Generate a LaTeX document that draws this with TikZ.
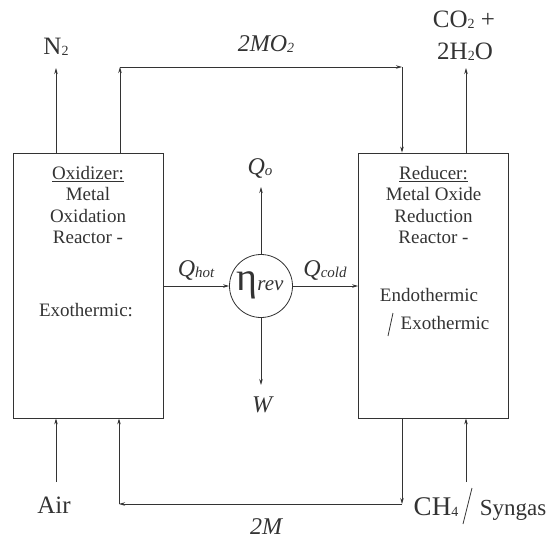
\documentclass[tikz,border=0pt]{standalone}
\usepackage{fontspec}
\setmainfont{Liberation Serif}
\usetikzlibrary{arrows.meta,positioning,calc}
\definecolor{ink}{HTML}{333333}
\newcommand{\lowsub}[1]{\raisebox{-1pt}{\fontsize{14}{14}\selectfont #1}}
\newcommand{\itsub}[1]{\raisebox{-1pt}{\fontsize{15}{15}\selectfont\itshape #1}}

\begin{document}
\begin{tikzpicture}[
  x=1pt, y=-1pt,
  every node/.style={text=ink},
  reactor/.style={draw=ink, line width=0.8pt, minimum width=150pt,
                  minimum height=265pt, inner sep=0pt},
  engine/.style={draw=ink, line width=0.8pt, circle, minimum size=63pt,
                 inner sep=0pt},
  boxtext/.style={align=center, font=\fontsize{19}{21.5}\selectfont},
  chem/.style={font=\fontsize{25}{29}\selectfont, align=center, inner sep=0pt},
  flow/.style={font=\fontsize{24}{28}\selectfont\itshape, inner sep=0pt},
  arr/.style={-{Stealth[length=6pt,width=3.5pt]}, draw=ink, line width=0.8pt}
]
  \useasboundingbox (0,0) rectangle (550,539);

  % Reactors and heat engine
  \node[reactor] (oxid) at (88,285.5) {};
  \node[reactor] (red) at (433.5,285.5) {};
  \node[engine] (eng) at (261,286) {};
  \node[inner sep=0pt] (eta) at (260,285)
    {{\fontsize{40}{40}\selectfont η}{\fontsize{21}{21}\selectfont\itshape rev}};

  % Reactor texts
  \node[boxtext] (oxtxt) at (88,205)
    {\underline{Oxidizer:}\\Metal\\Oxidation\\Reactor -};
  \node[boxtext] (oxexo) at (86,310) {Exothermic:};
  \node[boxtext] (retxt) at (433.5,205)
    {\underline{Reducer:}\\Metal Oxide\\Reduction\\Reactor -};
  \node[boxtext] (reendo) at (429,295) {Endothermic};
  \node[boxtext] (reexo) at (445,323) {Exothermic};
  \draw[ink, line width=0.8pt] (388,336) -- (393,313);

  % Stream labels
  \node[chem] (n2) at (56,47) {N\lowsub{2}};
  \node[chem] (co2) at (464,20) {CO\lowsub{2} +};
  \node[chem] (h2o) at (465,52) {2H\lowsub{2}O};
  \node[chem, anchor=base] (air) at (54,513) {Air};
  \node[chem, anchor=base, font=\fontsize{27}{30}\selectfont] (ch4) at (436,515) {CH\lowsub{4}};
  \node[anchor=base, inner sep=0pt, font=\fontsize{23}{26}\selectfont] (syn) at (513,515) {Syngas};
  \draw[ink, line width=0.8pt] (463,524) -- (472,488);
  \node[flow] (mo2) at (266,44) {2MO\lowsub{2}};
  \node[flow] (m) at (266,527) {2M};
  \node[flow] (qo) at (260,168) {Q\itsub{o}};
  \node[flow] (w) at (262,405) {W};
  \node[flow] (qhot) at (196,270) {Q\itsub{hot}};
  \node[flow] (qcold) at (325,270) {Q\itsub{cold}};

  % Routing points
  \coordinate (topL) at (120,67);
  \coordinate (topR) at (402,67);
  \coordinate (botL) at (119,504);
  \coordinate (botR) at (402,504);
  \coordinate (n2tip) at (56,68);
  \coordinate (co2tip) at (466,68);
  \coordinate (airtail) at (56,482);
  \coordinate (ch4tail) at (466,482);
  \coordinate (qotip) at (261,187);
  \coordinate (wtip) at (261,385);

  % Metal loop
  \draw[arr] (oxid.north -| topL) -- (topL);
  \draw[arr] (topL) -- (topR);
  \draw[arr] (topR) -- (red.north -| topR);
  \draw[arr] (red.south -| botR) -- (botR);
  \draw[arr] (botR) -- (botL);
  \draw[arr] (botL) -- (oxid.south -| botL);

  % Gas streams
  \draw[arr] (oxid.north -| n2tip) -- (n2tip);
  \draw[arr] (red.north -| co2tip) -- (co2tip);
  \draw[arr] (airtail) -- (oxid.south -| airtail);
  \draw[arr] (ch4tail) -- (red.south -| ch4tail);

  % Heat and work
  \draw[arr] (eng.west -| oxid.east) -- (eng.west);
  \draw[arr] (eng.east) -- (eng.east -| red.west);
  \draw[arr] (eng.north) -- (qotip);
  \draw[arr] (eng.south) -- (wtip);
\end{tikzpicture}
\end{document}
